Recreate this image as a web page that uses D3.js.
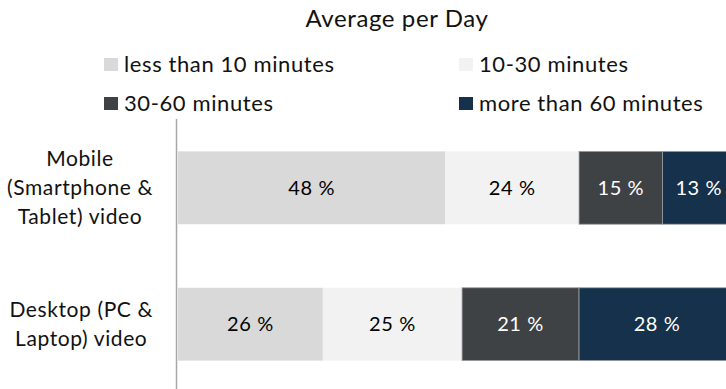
<!DOCTYPE html>
<html>
<head>
<meta charset="utf-8">
<script src="https://cdn.jsdelivr.net/npm/d3@7"></script>
<style>
  html, body { margin: 0; padding: 0; background: #fff; }
  svg { display: block; font-family: "Lato", "Open Sans", sans-serif; letter-spacing: 0.6px; }
</style>
</head>
<body>
<svg id="chart" width="726" height="389"></svg>
<script>
// Viewing time per day, share of respondents (%)
const categories = [
  ["Mobile", "(Smartphone &", "Tablet) video"],
  ["Desktop (PC &", "Laptop) video"]
];
const seriesNames = ["less than 10 minutes", "10-30 minutes", "30-60 minutes", "more than 60 minutes"];
const seriesColors = ["#d9d9d9", "#f2f2f2", "#3f4245", "#15314b"];
const labelColors = ["#000", "#000", "#fff", "#fff"];
const lessThan10 = [48, 26];
const from10to30 = [24, 25];
const from30to60 = [15, 21];
const moreThan60 = [13, 28];
const title = "Average per Day";

const seriesValues = [lessThan10, from10to30, from30to60, moreThan60];
const rows = categories.map((c, i) => {
  const r = { key: i };
  seriesNames.forEach((s, j) => { r[s] = seriesValues[j][i]; });
  return r;
});

const svg = d3.select("#chart");

const x = d3.scaleLinear().domain([0, 100]).range([178, 735]);
const y = d3.scaleBand().domain(d3.range(categories.length))
  .range([120, 392]).paddingInner(0.466).paddingOuter(0.23);

const stacked = d3.stack().keys(seriesNames)(rows);

// Title
svg.append("text")
  .attr("x", 397).attr("y", 27)
  .attr("text-anchor", "middle")
  .attr("font-size", 24).attr("fill", "#111")
  .text(title);

// Legend (2 x 2)
const legendPos = [[104, 64.5], [459, 64.5], [104, 103.5], [459, 103.5]];
const legend = svg.append("g");
seriesNames.forEach((s, i) => {
  const g = legend.append("g").attr("transform", `translate(${legendPos[i][0]},${legendPos[i][1]})`);
  g.append("rect").attr("x", 0).attr("y", -6.5).attr("width", 14).attr("height", 13).attr("fill", seriesColors[i]);
  g.append("text").attr("x", 20).attr("y", 0).attr("dy", "0.35em")
    .attr("font-size", 22).attr("fill", "#111").text(s);
});

// Bars with centred value labels
stacked.forEach((layer, j) => {
  const g = svg.append("g");
  layer.forEach((d, i) => {
    const y0 = y(i), h = y.bandwidth();
    g.append("rect")
      .attr("x", x(d[0])).attr("y", y0)
      .attr("width", x(d[1]) - x(d[0])).attr("height", h)
      .attr("fill", seriesColors[j])
      .attr("stroke", j >= 2 ? "#9a9ea2" : "none")
      .attr("stroke-width", j >= 2 ? 0.8 : 0);
    g.append("text")
      .attr("x", (x(d[0]) + x(d[1])) / 2).attr("y", y0 + h / 2)
      .attr("dy", "0.35em").attr("text-anchor", "middle")
      .attr("font-size", 20).attr("fill", labelColors[j])
      .text(`${d[1] - d[0]} %`);
  });
});

// Vertical category axis line
svg.append("line")
  .attr("x1", 176.5).attr("x2", 176.5).attr("y1", 119).attr("y2", 389)
  .attr("stroke", "#a6a6a6").attr("stroke-width", 1.5);

// Category labels: each block right-aligned at the same edge, lines centred within it
const lineH = 28.7;
categories.forEach((lines, i) => {
  const yc = y(i) + y.bandwidth() / 2;
  const g = svg.append("g");
  const texts = lines.map((t, k) => g.append("text")
    .attr("y", yc + (k - (lines.length - 1) / 2) * lineH)
    .attr("dy", "0.35em").attr("text-anchor", "middle")
    .attr("font-size", 21).attr("fill", "#111").text(t));
  const maxW = d3.max(texts, t => t.node().getComputedTextLength());
  texts.forEach(t => t.attr("x", 153 - maxW / 2));
});
</script>
</body>
</html>
